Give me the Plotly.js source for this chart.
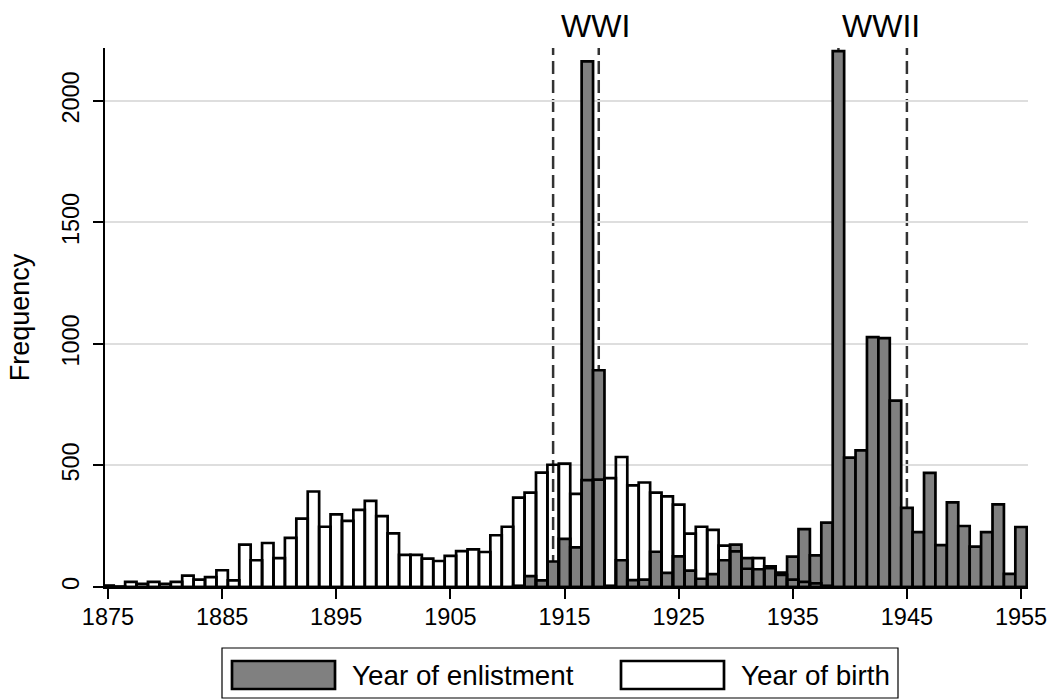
<!DOCTYPE html>
<html>
<head>
<meta charset="utf-8">
<script src="https://cdn.plot.ly/plotly-3.0.1.min.js"></script>
<style>
html,body{margin:0;padding:0;background:#fff;}
#chart{width:1057px;height:700px;}
</style>
</head>
<body>
<div id="chart"></div>
<script>
// ---- Data ----
var years = [];
for (var yr = 1875; yr <= 1955; yr++) years.push(yr);

// Year of birth (hollow bars), 1875..1955
var birthCounts = [
  6, 2, 21, 13, 21, 13, 21, 47, 30, 41,          // 1875-1884
  69, 27, 174, 110, 181, 119, 202, 281, 393, 248, // 1885-1894
  299, 272, 317, 354, 292, 221, 132, 132, 117, 107, // 1895-1904
  128, 148, 155, 144, 213, 248, 368, 388, 471, 503, // 1905-1914
  508, 383, 440, 442, 448, 535, 418, 430, 388, 373, // 1915-1924
  339, 220, 248, 235, 170, 147, 75, 119, 78, 50,    // 1925-1934
  30, 21, 15, 5, 0, 0, 0, 0, 0, 0,                 // 1935-1944
  0, 0, 0, 0, 0, 0, 0, 0, 0, 0,                    // 1945-1954
  0                                                 // 1955
];

// Year of enlistment (grey bars), 1875..1955
var enlistCounts = [
  0, 0, 0, 0, 0, 0, 0, 0, 0, 0,                    // 1875-1884
  0, 0, 0, 0, 0, 0, 0, 0, 0, 0,                    // 1885-1894
  0, 0, 0, 0, 0, 0, 0, 0, 0, 0,                    // 1895-1904
  0, 0, 0, 0, 0, 0, 5, 45, 27, 105,                // 1905-1914
  198, 163, 2163, 892, 5, 110, 28, 30, 145, 58,     // 1915-1924
  126, 67, 34, 53, 110, 174, 119, 73, 85, 59,       // 1925-1934
  125, 238, 130, 265, 2205, 532, 562, 1028, 1024, 767, // 1935-1944
  326, 226, 470, 172, 348, 251, 166, 226, 340, 54,  // 1945-1954
  247                                               // 1955
];

var xTicks = [1875, 1885, 1895, 1905, 1915, 1925, 1935, 1945, 1955];
var yTicks = [0, 500, 1000, 1500, 2000];
var warLines = [1914, 1918, 1939, 1945];
var warLabels = [{text: 'WWI', x: 1917.7}, {text: 'WWII', x: 1942.7}];
var legendNames = ['Year of enlistment', 'Year of birth'];

// ---- Plot ----
var FONT = 'Liberation Sans, Arial, Helvetica, sans-serif';
var EDGE = 2.7;

var traces = [
  {
    type: 'bar', x: years, y: enlistCounts, width: 1,
    name: legendNames[0],
    marker: {color: '#808080', line: {color: '#000000', width: EDGE}},
    hoverinfo: 'x+y'
  },
  {
    type: 'bar', x: years, y: birthCounts, width: 1,
    name: legendNames[1],
    marker: {color: 'rgba(255,255,255,0)', line: {color: '#000000', width: EDGE}},
    hoverinfo: 'x+y'
  }
];

var shapes = warLines.map(function (yv) {
  return {
    type: 'line', xref: 'x', yref: 'paper', x0: yv, x1: yv, y0: 0, y1: 1,
    line: {color: '#333333', width: 2.5, dash: '13px,6px'}, layer: 'between'
  };
});

// manual legend (box + swatches)
var px = function (v) { return (v - 105) / 923; };
var py = function (v) { return (587 - v) / 539; };
shapes.push({type: 'rect', xref: 'paper', yref: 'paper',
  x0: px(222), x1: px(898), y0: py(698), y1: py(648),
  line: {color: '#000', width: 1.2}, fillcolor: 'rgba(0,0,0,0)', layer: 'above'});
shapes.push({type: 'rect', xref: 'paper', yref: 'paper',
  x0: px(232), x1: px(335), y0: py(689), y1: py(661),
  line: {color: '#000', width: EDGE}, fillcolor: '#808080', layer: 'above'});
shapes.push({type: 'rect', xref: 'paper', yref: 'paper',
  x0: px(621), x1: px(724), y0: py(689), y1: py(661),
  line: {color: '#000', width: EDGE}, fillcolor: '#ffffff', layer: 'above'});

var annotations = warLabels.map(function (w) {
  return {
    text: w.text, xref: 'x', yref: 'paper', x: w.x, y: py(26),
    xanchor: 'center', yanchor: 'middle', showarrow: false,
    font: {family: FONT, size: 32, color: '#000'}
  };
});
annotations.push({text: legendNames[0], xref: 'paper', yref: 'paper',
  x: px(350), y: py(676), xanchor: 'left', yanchor: 'middle', showarrow: false,
  font: {family: FONT, size: 27.8, color: '#000'}});
annotations.push({text: legendNames[1], xref: 'paper', yref: 'paper',
  x: px(739), y: py(676), xanchor: 'left', yanchor: 'middle', showarrow: false,
  font: {family: FONT, size: 27.8, color: '#000'}});

var layout = {
  width: 1057, height: 700,
  margin: {l: 105, r: 29, t: 48, b: 113, pad: 0},
  paper_bgcolor: '#ffffff', plot_bgcolor: '#ffffff',
  barmode: 'overlay', bargap: 0,
  showlegend: false,
  font: {family: FONT, color: '#000'},
  xaxis: {
    range: [1874.737, 1955.61],
    tickmode: 'array', tickvals: xTicks, ticktext: xTicks.map(String),
    ticks: 'outside', ticklen: 10, tickwidth: 2, tickcolor: '#000',
    showline: true, linecolor: '#000', linewidth: 2,
    showgrid: false, zeroline: false,
    ticklabelstandoff: -2,
    tickfont: {family: FONT, size: 23.5, color: '#000'}
  },
  yaxis: {
    range: [0, 2218],
    tickmode: 'array', tickvals: yTicks, ticktext: yTicks.map(String),
    tickangle: -90,
    ticks: 'outside', ticklen: 10, tickwidth: 2, tickcolor: '#000',
    showline: true, linecolor: '#000', linewidth: 2,
    showgrid: true, gridcolor: '#dedede', gridwidth: 2,
    zeroline: false,
    ticklabelstandoff: 5,
    tickfont: {family: FONT, size: 23.5, color: '#000'},
    title: {text: 'Frequency', font: {family: FONT, size: 27, color: '#000'}, standoff: 20}
  },
  shapes: shapes,
  annotations: annotations
};

Plotly.newPlot('chart', traces, layout, {displayModeBar: false, staticPlot: true});
</script>
</body>
</html>
